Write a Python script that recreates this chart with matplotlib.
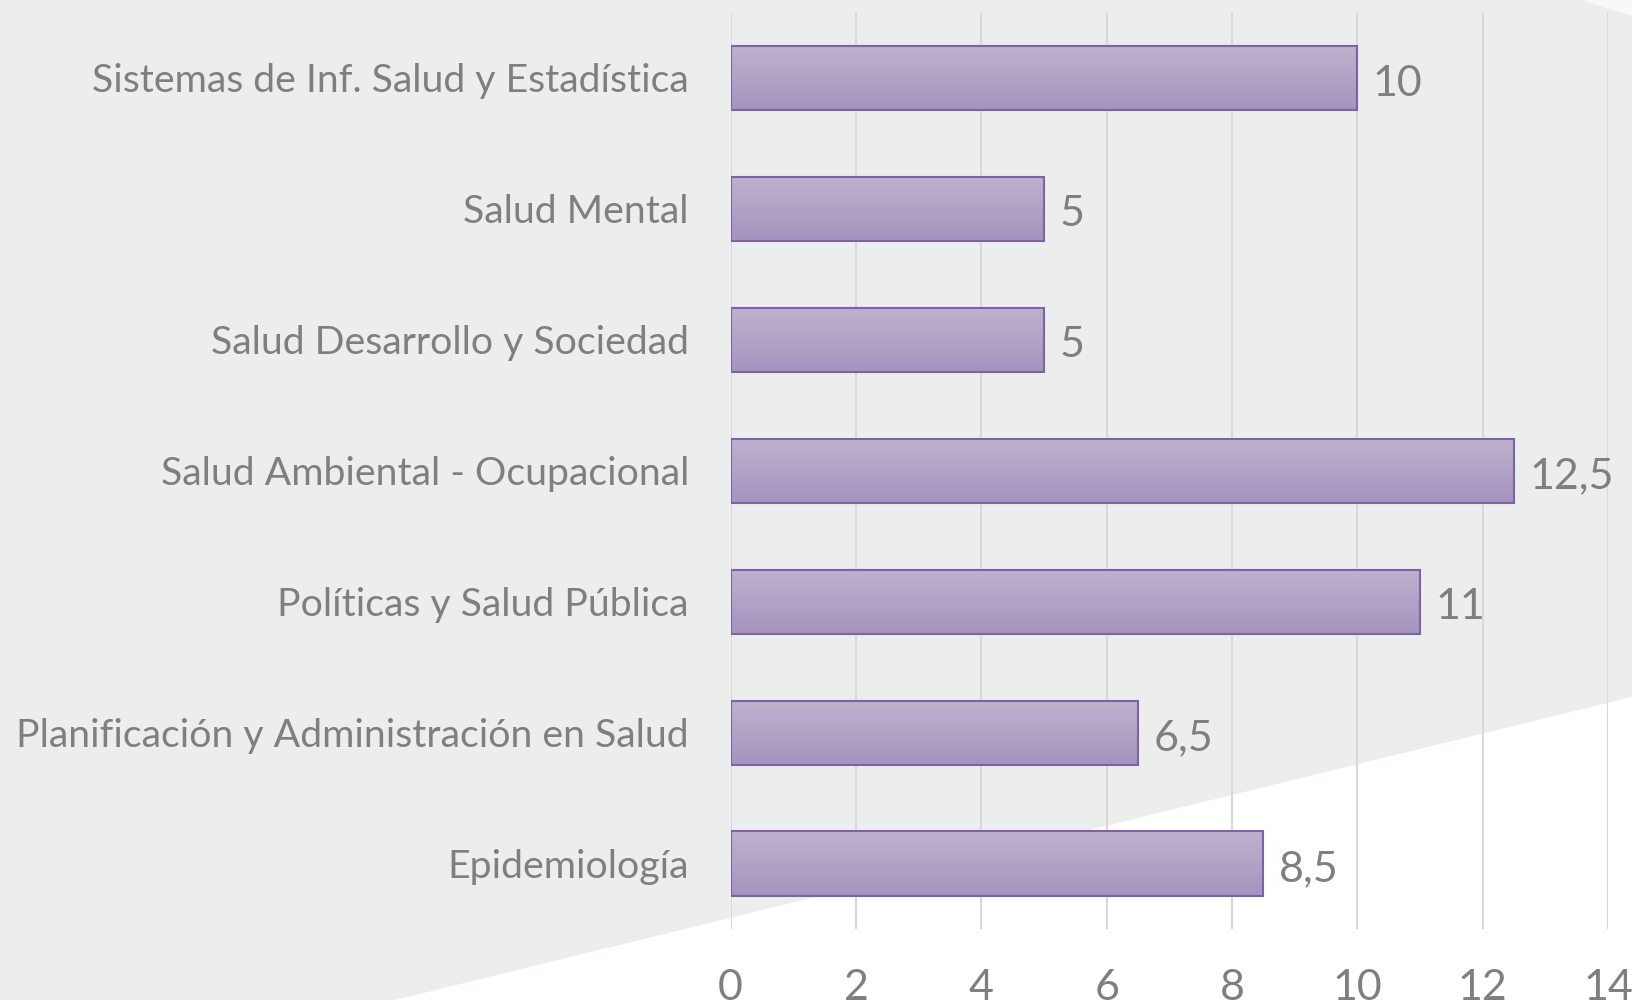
import matplotlib
matplotlib.use("Agg")
import matplotlib.pyplot as plt
import numpy as np
from matplotlib.patches import Polygon

categories = [
    "Sistemas de Inf. Salud y Estadística",
    "Salud Mental",
    "Salud Desarrollo y Sociedad",
    "Salud Ambiental - Ocupacional",
    "Políticas y Salud Pública",
    "Planificación y Administración en Salud",
    "Epidemiología",
]
values = [10, 5, 5, 12.5, 11, 6.5, 8.5]
xticks = [0, 2, 4, 6, 8, 10, 12, 14]

TEXT = "#7F7F7F"
BG = "#ECEEED"
GRID = "#D9D9D9"
EDGE = "#7E62A8"
TOP_C = np.array([0xBE, 0xB2, 0xCE]) / 255
BOT_C = np.array([0xA5, 0x94, 0xBE]) / 255

plt.rcParams['font.family'] = ['Lato', 'DejaVu Sans']

fig = plt.figure(figsize=(16.32, 10), dpi=100)
fig.patch.set_facecolor(BG)

# white diagonal area bottom-right
fig.patches.append(Polygon([(395/1632, 0), (1, 0), (1, 1 - 697/1000)], closed=True,
                           transform=fig.transFigure, facecolor="white", edgecolor="none", zorder=-5))
fig.patches.append(Polygon([(1580/1632, 1), (1, 1), (1, 1 - 16/1000)], closed=True,
                           transform=fig.transFigure, facecolor="#F7F8F8", edgecolor="none", zorder=-5))

ax = fig.add_axes([730.6/1632, 1 - 929/1000, (1608 - 730.6)/1632, (929 - 12.5)/1000])
ax.set_facecolor("none")
ax.set_zorder(1)

y = np.arange(len(categories))
bars = ax.barh(y, values, height=0.49, color=BOT_C, edgecolor=EDGE, linewidth=1.5, zorder=3)

# vertical gradient fill for each bar
grad = np.linspace(0, 1, 64)[:, None, None]
grad_img = TOP_C[None, None, :] * (1 - grad) + BOT_C[None, None, :] * grad
for b in bars:
    x0, y0 = b.get_x(), b.get_y()
    w, h = b.get_width(), b.get_height()
    im = ax.imshow(grad_img, extent=(x0, x0 + w, y0 + h, y0), aspect="auto",
                   origin="upper", zorder=3.5, interpolation="bilinear")
    im.set_clip_path(b)
    b.set_facecolor("none")
    b.set_zorder(4)

for yi, v in zip(y, values):
    lbl = ("%g" % v).replace(".", ",")
    ax.annotate(lbl, (v, yi), xytext=(11, -1.5), textcoords="offset points",
                va="center_baseline", ha="left", fontsize=31, color=TEXT)

ax.set_xlim(0, 14)
ax.set_ylim(len(categories) - 0.5, -0.5)
ax.set_xticks(xticks)
ax.set_xticklabels([str(t) for t in xticks])
ax.set_yticks(y)
ax.set_yticklabels(categories)
ax.tick_params(axis="x", length=0, pad=29, labelsize=31, labelcolor=TEXT)
ax.tick_params(axis="y", length=0, pad=30, labelsize=28.3, labelcolor=TEXT)
ax.grid(axis="x", color=GRID, linewidth=1.5, zorder=0)
ax.set_axisbelow(True)
for s in ax.spines.values():
    s.set_visible(False)

fig.savefig("out.png", dpi=100, facecolor=BG)
